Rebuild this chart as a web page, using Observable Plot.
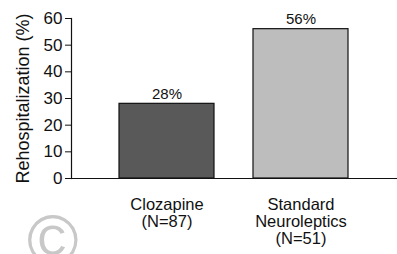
<!DOCTYPE html>
<html>
<head>
<meta charset="utf-8">
<script src="https://cdn.jsdelivr.net/npm/d3@7"></script>
<script src="https://cdn.jsdelivr.net/npm/@observablehq/plot@0.6"></script>
<style>
  html, body { margin: 0; padding: 0; background: #fff; }
  #wrap { position: relative; width: 397px; height: 254px; overflow: hidden; }
  #wm { position: absolute; left: 27px; top: 205px; font: 70px "Liberation Sans", Arial, sans-serif; color: #c8c8c8; line-height: 1; }
  svg { font-family: "Liberation Sans", Arial, sans-serif; }
</style>
</head>
<body>
<div id="wrap"><div id="wm">©</div></div>
<script>
const categories = ["Clozapine\n(N=87)", "Standard\nNeuroleptics\n(N=51)"];
const values = [28, 56];
const colors = ["#595959", "#bdbdbd"];
const yTicks = [0, 10, 20, 30, 40, 50, 60];
const yLabel = "Rehospitalization (%)";

const data = categories.map((c, i) => ({category: c, value: values[i], color: colors[i]}));

const chart = Plot.plot({
  width: 397,
  height: 254,
  marginTop: 18,
  marginBottom: 76,
  marginLeft: 71,
  marginRight: 0,
  style: {fontFamily: '"Liberation Sans", Arial, sans-serif', background: "transparent", overflow: "visible"},
  x: {domain: categories, paddingInner: 0.29, paddingOuter: 0.355, label: null},
  y: {domain: [0, 60], ticks: yTicks, label: null},
  marks: [
    Plot.axisY({ticks: yTicks, tickSize: 6, tickPadding: 3, fontSize: 17, label: null, tickFormat: d => String(d), color: "#111"}),
    Plot.axisX({tickSize: 0, tickPadding: 19, fontSize: 16.5, lineHeight: 1.05, label: null, color: "#111"}),
    Plot.barY(data, {x: "category", y: "value", fill: "color", stroke: "#111", strokeWidth: 1.2}),
    Plot.text(data, {x: "category", y: "value", text: d => d.value + "%", dy: -5, lineAnchor: "bottom", fontSize: 15, fill: "#111"}),
    Plot.ruleY([0], {stroke: "#111", strokeWidth: 1.2}),
    Plot.frame({anchor: "left", stroke: "#111", strokeWidth: 1.2}),
    Plot.text([yLabel], {frameAnchor: "left", textAnchor: "middle", rotate: -90, dx: -43, lineAnchor: "bottom", fontSize: 18, fill: "#111", text: d => d})
  ]
});
document.getElementById("wrap").appendChild(chart);
chart.style.position = "absolute";
chart.style.left = "0px";
chart.style.top = "0px";
</script>
</body>
</html>
